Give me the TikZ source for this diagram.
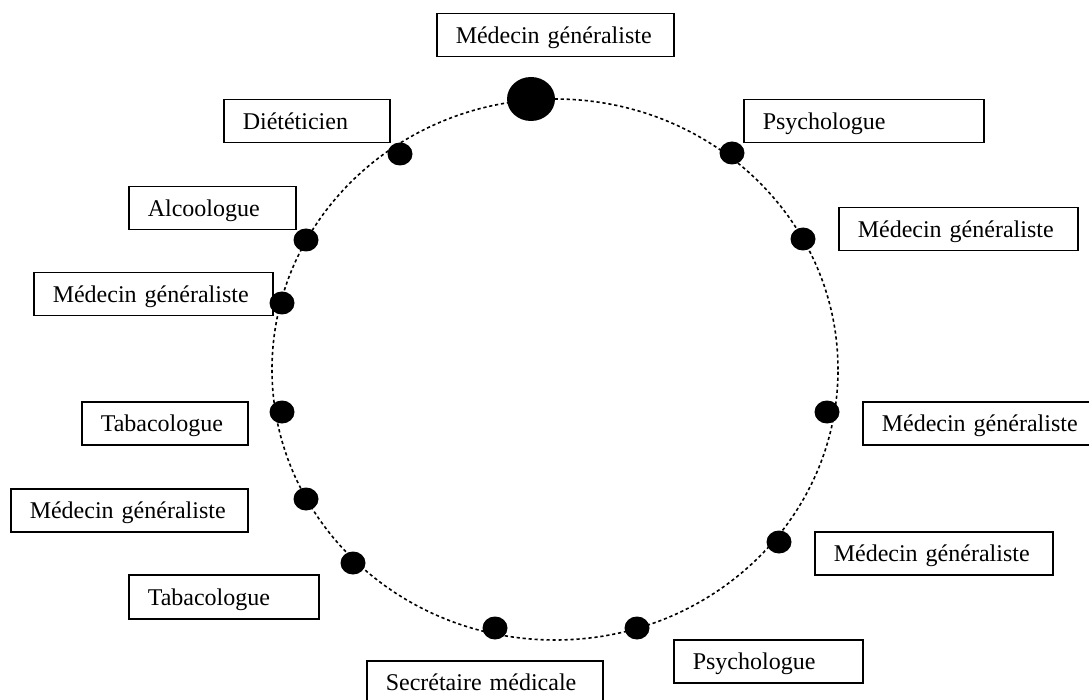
\documentclass[tikz,border=0pt]{standalone}
\usepackage{fontspec}
\setmainfont{Liberation Serif}
\usetikzlibrary{shapes.geometric}
\tikzset{
  labelbox/.style={draw, line width=1.5pt, anchor=north west, inner xsep=19pt, inner ysep=0pt,
    minimum height=43pt, text height=22pt, text depth=5pt, align=left,
    font=\fontsize{24}{28}\selectfont},
  dot/.style={ellipse, fill=black, draw=none, inner sep=0pt, minimum width=25pt, minimum height=23pt},
  bigdot/.style={ellipse, fill=black, draw=none, inner sep=0pt, minimum width=48pt, minimum height=44pt},
  ringline/.style={ellipse, draw, line width=1.6pt, dash pattern=on 3.2pt off 2.8pt, inner sep=0pt,
    minimum width=566pt, minimum height=541pt}
}
\begin{document}
\begin{tikzpicture}[x=1pt,y=-1pt]
\useasboundingbox (0,0) rectangle (1089,700);
\clip (0,0) rectangle (1089,700);
\fill[white] (0,0) rectangle (1089,700);
% ring
\node[ringline] (ring) at (555,369.5) {};
% dots
\node[bigdot] (d0) at (531,99) {};
\node[dot] (d1) at (400,154) {};
\node[dot] (d2) at (732,153) {};
\node[dot] (d3) at (306,240) {};
\node[dot] (d4) at (803,239) {};
\node[dot] (d5) at (282,303) {};
\node[dot] (d6) at (282,412) {};
\node[dot] (d7) at (827,412) {};
\node[dot] (d8) at (306,499) {};
\node[dot] (d9) at (779,542) {};
\node[dot] (d10) at (353,563) {};
\node[dot] (d11) at (495,628) {};
\node[dot] (d12) at (637,628) {};
% labels
\node[labelbox, text width=199pt] (b0) at (436,13) {Médecin généraliste};
\node[labelbox, text width=128pt] (b1) at (223,99) {Diététicien};
\node[labelbox, text width=202pt] (b2) at (743,99) {Psychologue};
\node[labelbox, text width=129pt] (b3) at (128,186) {Alcoologue};
\node[labelbox, text width=201pt] (b4) at (838,207) {Médecin généraliste};
\node[labelbox, text width=201pt] (b5) at (33,272) {Médecin généraliste};
\node[labelbox, text width=128pt] (b6) at (81,401) {Tabacologue};
\node[labelbox, text width=201pt] (b7) at (862,401) {Médecin généraliste};
\node[labelbox, text width=199pt] (b8) at (10,488) {Médecin généraliste};
\node[labelbox, text width=152pt, minimum height=44pt] (b9) at (128,574) {Tabacologue};
\node[labelbox, text width=200pt] (b10) at (814,531) {Médecin généraliste};
\node[labelbox, text width=151pt] (b11) at (673,639) {Psychologue};
\node[labelbox, text width=198pt] (b12) at (366,660) {Secrétaire médicale};
\end{tikzpicture}
\end{document}
